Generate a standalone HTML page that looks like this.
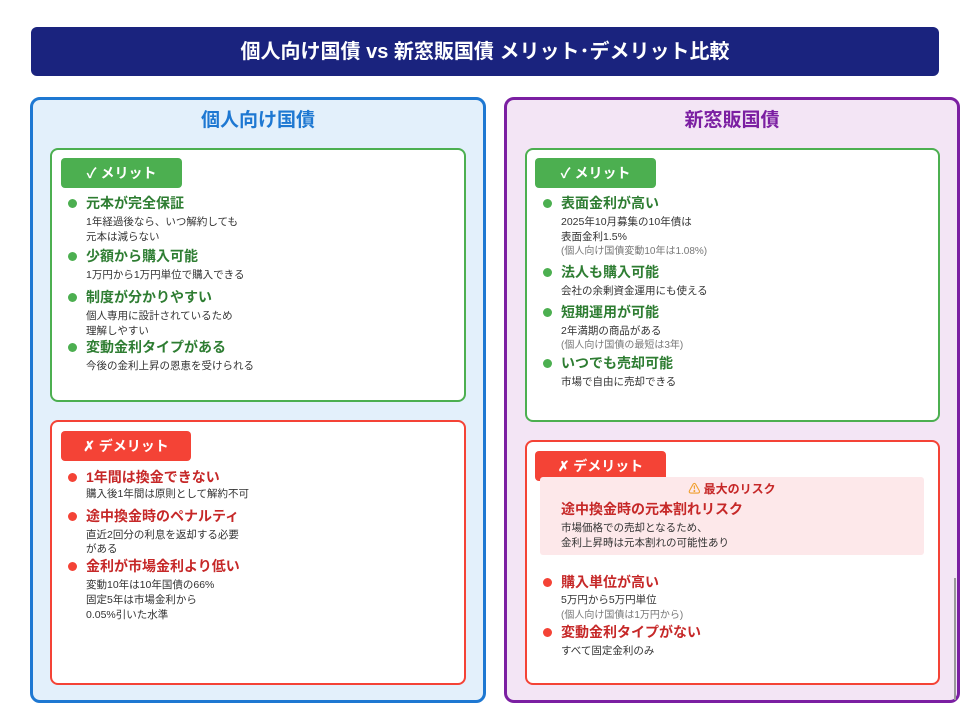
<!DOCTYPE html>
<html><head><meta charset="utf-8"><style>
*{margin:0;padding:0;box-sizing:border-box}
body{width:961px;height:703px;background:#fff;position:relative;overflow:hidden;font-family:"Liberation Sans","Noto Sans CJK JP",sans-serif}
div{position:absolute}
.t{white-space:nowrap;line-height:1}
.box{background:#fff;border-radius:8px}
.gt{color:#2e7d32;font-weight:bold;font-size:14px}
.rt{color:#c62828;font-weight:bold;font-size:14px}
.d{color:#333;font-size:10.5px}
.s{color:#777;font-size:10px}
.gb{width:9px;height:9px;border-radius:50%;background:#4caf50}
.rb{width:9px;height:9px;border-radius:50%;background:#f44336}
.badge{color:#fff;font-weight:bold;font-size:14px;border-radius:4px;text-align:center;line-height:30px}
</style></head><body>
<div style="left:31px;top:27px;width:908px;height:49px;background:#1a237e;border-radius:6px"></div>
<div class="t" style="left:31px;top:42px;width:908px;text-align:center;color:#fff;font-weight:bold;font-size:20px">個人向け国債 vs 新窓販国債 メリット･デメリット比較</div>

<div style="left:30px;top:97px;width:456px;height:606px;background:#e3f0fb;border:3px solid #1e78d2;border-radius:10px"></div>
<div class="t" style="left:30px;top:111px;width:456px;text-align:center;color:#1e78d2;font-weight:bold;font-size:19px">個人向け国債</div>
<div style="left:504px;top:97px;width:456px;height:606px;background:#f3e5f5;border:3px solid #7b1fa2;border-radius:10px"></div>
<div class="t" style="left:504px;top:111px;width:456px;text-align:center;color:#7b1fa2;font-weight:bold;font-size:19px">新窓販国債</div>
<div style="left:954px;top:578px;width:2px;height:122px;background:#999"></div>

<!-- left merit -->
<div class="box" style="left:50px;top:148px;width:416px;height:254px;border:2px solid #4caf50"></div>
<div class="badge" style="left:61px;top:158px;width:121px;height:30px;background:#4caf50">✓ メリット</div>
<div class="gb" style="left:68px;top:199px"></div><div class="t gt" style="left:86px;top:196px">元本が完全保証</div>
<div class="t d" style="left:86px;top:217px">1年経過後なら、いつ解約しても</div>
<div class="t d" style="left:86px;top:232px">元本は減らない</div>
<div class="gb" style="left:68px;top:252px"></div><div class="t gt" style="left:86px;top:249px">少額から購入可能</div>
<div class="t d" style="left:86px;top:270px">1万円から1万円単位で購入できる</div>
<div class="gb" style="left:68px;top:293px"></div><div class="t gt" style="left:86px;top:290px">制度が分かりやすい</div>
<div class="t d" style="left:86px;top:311px">個人専用に設計されているため</div>
<div class="t d" style="left:86px;top:326px">理解しやすい</div>
<div class="gb" style="left:68px;top:343px"></div><div class="t gt" style="left:86px;top:340px">変動金利タイプがある</div>
<div class="t d" style="left:86px;top:361px">今後の金利上昇の恩恵を受けられる</div>

<!-- left demerit -->
<div class="box" style="left:50px;top:420px;width:416px;height:265px;border:2px solid #f44336"></div>
<div class="badge" style="left:61px;top:431px;width:130px;height:30px;background:#f44336">✗ デメリット</div>
<div class="rb" style="left:68px;top:473px"></div><div class="t rt" style="left:86px;top:470px">1年間は換金できない</div>
<div class="t d" style="left:86px;top:489px">購入後1年間は原則として解約不可</div>
<div class="rb" style="left:68px;top:512px"></div><div class="t rt" style="left:86px;top:509px">途中換金時のペナルティ</div>
<div class="t d" style="left:86px;top:530px">直近2回分の利息を返却する必要</div>
<div class="t d" style="left:86px;top:544px">がある</div>
<div class="rb" style="left:68px;top:562px"></div><div class="t rt" style="left:86px;top:559px">金利が市場金利より低い</div>
<div class="t d" style="left:86px;top:580px">変動10年は10年国債の66%</div>
<div class="t d" style="left:86px;top:595px">固定5年は市場金利から</div>
<div class="t d" style="left:86px;top:610px">0.05%引いた水準</div>

<!-- right merit -->
<div class="box" style="left:525px;top:148px;width:415px;height:274px;border:2px solid #4caf50"></div>
<div class="badge" style="left:535px;top:158px;width:121px;height:30px;background:#4caf50">✓ メリット</div>
<div class="gb" style="left:543px;top:199px"></div><div class="t gt" style="left:561px;top:196px">表面金利が高い</div>
<div class="t d" style="left:561px;top:217px">2025年10月募集の10年債は</div>
<div class="t d" style="left:561px;top:232px">表面金利1.5%</div>
<div class="t s" style="left:561px;top:247px">(個人向け国債変動10年は1.08%)</div>
<div class="gb" style="left:543px;top:268px"></div><div class="t gt" style="left:561px;top:265px">法人も購入可能</div>
<div class="t d" style="left:561px;top:286px">会社の余剰資金運用にも使える</div>
<div class="gb" style="left:543px;top:308px"></div><div class="t gt" style="left:561px;top:305px">短期運用が可能</div>
<div class="t d" style="left:561px;top:326px">2年満期の商品がある</div>
<div class="t s" style="left:561px;top:341px">(個人向け国債の最短は3年)</div>
<div class="gb" style="left:543px;top:359px"></div><div class="t gt" style="left:561px;top:356px">いつでも売却可能</div>
<div class="t d" style="left:561px;top:377px">市場で自由に売却できる</div>

<!-- right demerit -->
<div class="box" style="left:525px;top:440px;width:415px;height:245px;border:2px solid #f44336"></div>
<div class="badge" style="left:535px;top:451px;width:131px;height:30px;background:#f44336">✗ デメリット</div>
<div style="left:540px;top:477px;width:384px;height:78px;background:#fde8ea;border-radius:3px"></div>
<div class="t" style="left:540px;top:483px;width:384px;text-align:center;color:#c62828;font-weight:bold;font-size:12px"><span style="color:#f0a030">⚠</span> 最大のリスク</div>
<div class="t rt" style="left:561px;top:502px">途中換金時の元本割れリスク</div>
<div class="t d" style="left:561px;top:523px">市場価格での売却となるため、</div>
<div class="t d" style="left:561px;top:538px">金利上昇時は元本割れの可能性あり</div>
<div class="rb" style="left:543px;top:578px"></div><div class="t rt" style="left:561px;top:575px">購入単位が高い</div>
<div class="t d" style="left:561px;top:595px">5万円から5万円単位</div>
<div class="t s" style="left:561px;top:611px">(個人向け国債は1万円から)</div>
<div class="rb" style="left:543px;top:628px"></div><div class="t rt" style="left:561px;top:625px">変動金利タイプがない</div>
<div class="t d" style="left:561px;top:646px">すべて固定金利のみ</div>
</body></html>
